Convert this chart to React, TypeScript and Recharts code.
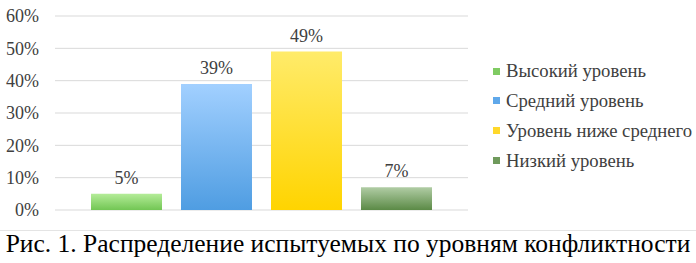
import { BarChart, Bar, XAxis, YAxis, CartesianGrid, LabelList } from "recharts";

const seriesNames = [
  "Высокий уровень",
  "Средний уровень",
  "Уровень ниже среднего",
  "Низкий уровень",
];
const seriesValues = [5, 39, 49, 7];
const yTicks = [0, 10, 20, 30, 40, 50, 60];
const caption = "Рис. 1. Распределение испытуемых по уровням конфликтности";

// gradient top / bottom per series
const gradTop = ["#b4ec98", "#a2d0ff", "#ffeb6a", "#b0cca4"];
const gradBottom = ["#72c654", "#4f9de2", "#ffd400", "#5b8a46"];
const legendColors = ["#7fcb62", "#5fa8ea", "#ffd82a", "#6f9a5c"];

const keys = seriesNames.map((_, i) => `s${i}`);
const row: Record<string, number | string> = { cat: "" };
keys.forEach((k, i) => (row[k] = seriesValues[i]));
const data = [row];

const serif = "Liberation Serif";

export default function App() {
  return (
    <div
      style={{
        position: "absolute",
        left: 0,
        top: 0,
        width: 696,
        height: 263,
        background: "#fff",
        overflow: "hidden",
      }}
    >
      <BarChart
        width={480}
        height={225}
        data={data}
        margin={{ top: 16, right: 12, left: 0, bottom: 15 }}
        barGap={19}
        barCategoryGap={36}
      >
        <defs>
          {keys.map((k, i) => (
            <linearGradient key={k} id={`g${i}`} x1="0" y1="0" x2="0" y2="1">
              <stop offset="0%" stopColor={gradTop[i]} />
              <stop offset="100%" stopColor={gradBottom[i]} />
            </linearGradient>
          ))}
        </defs>
        <CartesianGrid vertical={false} stroke="#d9d9d9" />
        <XAxis dataKey="cat" hide />
        <YAxis
          width={55}
          domain={[0, 60]}
          ticks={yTicks}
          axisLine={false}
          tickLine={false}
          tickSize={0}
          tickMargin={16}
          tickFormatter={(v) => `${v}%`}
          tick={{ fill: "#404040", fontSize: 18, fontFamily: serif }}
        />
        {keys.map((k, i) => (
          <Bar key={k} dataKey={k} fill={`url(#g${i})`} isAnimationActive={false}>
            <LabelList
              dataKey={k}
              position="top"
              offset={10}
              formatter={(v: any) => `${v}%`}
              fill="#404040"
              fontSize={18}
              fontFamily={serif}
            />
          </Bar>
        ))}
      </BarChart>
      {seriesNames.map((name, i) => (
        <div
          key={name}
          style={{
            position: "absolute",
            left: 493,
            top: 60.5 + i * 29.9,
            height: 21,
            display: "flex",
            alignItems: "center",
            fontFamily: serif,
            fontSize: 18.7,
            color: "#404040",
            whiteSpace: "nowrap",
          }}
        >
          <span
            style={{
              display: "inline-block",
              width: 7,
              height: 7,
              background: legendColors[i],
              marginRight: 6,
            }}
          />
          <span style={{ fontFamily: serif }}>{name}</span>
        </div>
      ))}
      <div
        style={{
          position: "absolute",
          left: 0,
          top: 230,
          width: 696,
          borderTop: "1px solid #e4e4e4",
        }}
      />
      <div
        style={{
          position: "absolute",
          left: 0,
          top: 229,
          width: 696,
          textAlign: "center",
          fontFamily: serif,
          fontSize: 25.5,
          color: "#000",
          whiteSpace: "nowrap",
        }}
      >
        {caption}
      </div>
    </div>
  );
}
